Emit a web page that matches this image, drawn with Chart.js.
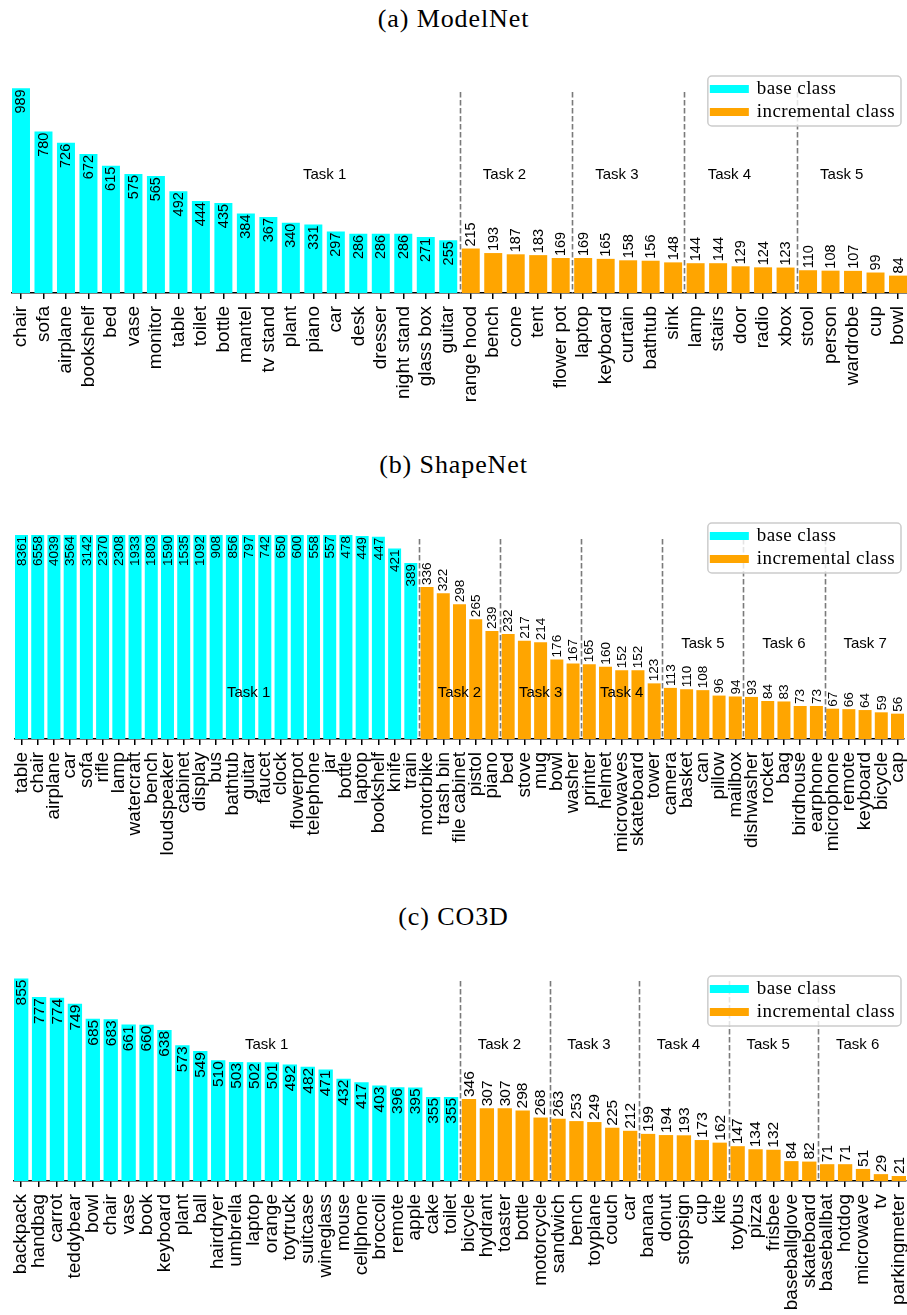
<!DOCTYPE html>
<html lang="en">
<head>
  <meta charset="UTF-8">
  <title>Class distribution</title>
  <script src="https://cdn.jsdelivr.net/npm/chart.js"></script>
  <style>
    body { margin: 0; background: #fff; width: 907px; height: 1315px; position: relative; overflow: hidden; }
    .title { position: absolute; left: 0; width: 907px; text-align: center; font-family: "Liberation Serif", serif; font-size: 26px; letter-spacing: 0.9px; line-height: 30px; color: #000; }
    .panel { position: absolute; left: 0; width: 907px; }
  </style>
</head>
<body>
  <div class="title" style="top:4px">(a) ModelNet</div>
  <div class="panel" style="top:64px;height:344px"><canvas id="modelnet"></canvas></div>
  <div class="title" style="top:450px">(b) ShapeNet</div>
  <div class="panel" style="top:515px;height:349px"><canvas id="shapenet"></canvas></div>
  <div class="title" style="top:902px">(c) CO3D</div>
  <div class="panel" style="top:955px;height:356px"><canvas id="co3d"></canvas></div>

  <script>
    // ModelNet
    const modelnetCats = ["chair", "sofa", "airplane", "bookshelf", "bed", "vase", "monitor", "table", "toilet", "bottle",
      "mantel", "tv stand", "plant", "piano", "car", "desk", "dresser", "night stand", "glass box", "guitar",
      "range hood", "bench", "cone", "tent", "flower pot",
      "laptop", "keyboard", "curtain", "bathtub", "sink",
      "lamp", "stairs", "door", "radio", "xbox",
      "stool", "person", "wardrobe", "cup", "bowl"];
    const modelnetCounts = [989, 780, 726, 672, 615, 575, 565, 492, 444, 435,
      384, 367, 340, 331, 297, 286, 286, 286, 271, 255,
      215, 193, 187, 183, 169,
      169, 165, 158, 156, 148,
      144, 144, 129, 124, 123,
      110, 108, 107, 99, 84];
    const modelnetTasks = ["Task 1", "Task 2", "Task 3", "Task 4", "Task 5"];
    const modelnetTaskX = [13.5, 21.5, 26.5, 31.5, 36.5];
    const modelnetTaskY = [572, 572, 572, 572, 572];

    // ShapeNet
    const shapenetCats = ["table", "chair", "airplane", "car", "sofa", "rifle", "lamp", "watercraft", "bench", "loudspeaker",
      "cabinet", "display", "bus", "bathtub", "guitar", "faucet", "clock", "flowerpot", "telephone", "jar",
      "bottle", "laptop", "bookshelf", "knife", "train",
      "motorbike", "trash bin", "file cabinet", "pistol", "piano",
      "bed", "stove", "mug", "bowl", "washer",
      "printer", "helmet", "microwaves", "skateboard", "tower",
      "camera", "basket", "can", "pillow", "mailbox",
      "dishwasher", "rocket", "bag", "birdhouse", "earphone",
      "microphone", "remote", "keyboard", "bicycle", "cap"];
    const shapenetCounts = [8361, 6558, 4039, 3564, 3142, 2370, 2308, 1933, 1803, 1590,
      1535, 1092, 908, 856, 797, 742, 650, 600, 558, 557,
      478, 449, 447, 421, 389,
      336, 322, 298, 265, 239,
      232, 217, 214, 176, 167,
      165, 160, 152, 152, 123,
      113, 110, 108, 96, 94,
      93, 84, 83, 73, 73,
      67, 66, 64, 59, 56];
    const shapenetTasks = ["Task 1", "Task 2", "Task 3", "Task 4", "Task 5", "Task 6", "Task 7"];
    const shapenetTaskX = [14, 27, 32, 37, 42, 47, 52];
    const shapenetTaskY = [102, 102, 102, 102, 210, 210, 210];

    // CO3D
    const co3dCats = ["backpack", "handbag", "carrot", "teddybear", "bowl", "chair", "vase", "book", "keyboard", "plant",
      "ball", "hairdryer", "umbrella", "laptop", "orange", "toytruck", "suitcase", "wineglass", "mouse", "cellphone",
      "broccoli", "remote", "apple", "cake", "toilet",
      "bicycle", "hydrant", "toaster", "bottle", "motorcycle",
      "sandwich", "bench", "toyplane", "couch", "car",
      "banana", "donut", "stopsign", "cup", "kite",
      "toybus", "pizza", "frisbee", "baseballglove", "skateboard",
      "baseballbat", "hotdog", "microwave", "tv", "parkingmeter"];
    const co3dCounts = [855, 777, 774, 749, 685, 683, 661, 660, 638, 573,
      549, 510, 503, 502, 501, 492, 482, 471, 432, 417,
      403, 396, 395, 355, 355,
      346, 307, 307, 298, 268,
      263, 253, 249, 225, 212,
      199, 194, 193, 173, 162,
      147, 134, 132, 84, 82,
      71, 71, 51, 29, 21];
    const co3dTasks = ["Task 1", "Task 2", "Task 3", "Task 4", "Task 5", "Task 6"];
    const co3dTaskX = [13.7, 26.7, 31.7, 36.7, 41.7, 46.7];
    const co3dTaskY = [573, 573, 573, 573, 573, 573];

    const legendLabels = ["base class", "incremental class"];
    const CYAN = "#00ffff";
    const ORANGE = "#ffa500";

    // dashed task separators, value labels, task names and legend
    const overlay = {
      id: "overlay",
      afterDatasetsDraw(chart, args, o) {
        const { ctx, chartArea: a, scales: { x, y } } = chart;
        const meta = chart.getDatasetMeta(0);
        const data = chart.data.datasets[0].data;
        ctx.save();

        ctx.strokeStyle = "#7a7a7a";
        ctx.lineWidth = 1.6;
        ctx.setLineDash([5.5, 2.5]);
        for (let b = o.nBase; b < data.length; b += 5) {
          const px = Math.round(x.getPixelForValue(b - 0.5)) + 0.5;
          ctx.beginPath();
          ctx.moveTo(px, y.getPixelForValue(o.dashTop));
          ctx.lineTo(px, a.bottom);
          ctx.stroke();
        }
        ctx.setLineDash([]);

        ctx.fillStyle = "#000";
        ctx.font = o.valueSize + 'px "Liberation Sans"';
        ctx.textBaseline = "middle";
        meta.data.forEach((bar, i) => {
          const top = Math.max(bar.y, a.top);
          ctx.save();
          ctx.translate(bar.x, top);
          ctx.rotate(-Math.PI / 2);
          if (i < o.nBase) {
            ctx.textAlign = "right";
            ctx.fillText(String(data[i].y), -1, 0.5);
          } else {
            ctx.textAlign = "left";
            ctx.fillText(String(data[i].y), 2, 0.5);
          }
          ctx.restore();
        });

        ctx.font = '15px "Liberation Sans"';
        ctx.textAlign = "center";
        o.tasks.forEach((t, i) => {
          ctx.fillText(t, x.getPixelForValue(o.taskX[i]), y.getPixelForValue(o.taskY[i]));
        });

        // legend box
        ctx.font = '19px "Liberation Serif"';
        ctx.letterSpacing = "0.4px";
        const tw = Math.max(...legendLabels.map(l => ctx.measureText(l).width));
        const w = 2 + 39 + 8 + tw + 6;
        const h = 50;
        const bx = chart.width - 6 - w;
        const by = a.top + o.legendDy;
        ctx.beginPath();
        ctx.roundRect(bx, by, w, h, 4);
        ctx.fillStyle = "rgba(255,255,255,0.8)";
        ctx.fill();
        ctx.strokeStyle = "#cccccc";
        ctx.lineWidth = 1.5;
        ctx.stroke();
        [CYAN, ORANGE].forEach((c, i) => {
          const cy = by + 13 + i * 23;
          ctx.fillStyle = c;
          ctx.fillRect(bx + 2, cy - 4, 39, 8);
          ctx.fillStyle = "#000";
          ctx.textAlign = "left";
          ctx.fillText(legendLabels[i], bx + 49, cy);
        });
        ctx.restore();
      }
    };

    function makeChart(id, cats, counts, o) {
      const colors = counts.map((_, i) => i < o.nBase ? CYAN : ORANGE);
      return new Chart(document.getElementById(id), {
        type: "bar",
        data: {
          datasets: [{
            data: counts.map((v, i) => ({ x: i, y: v })),
            backgroundColor: colors,
            categoryPercentage: 1,
            barPercentage: 0.8
          }]
        },
        options: {
          responsive: true,
          maintainAspectRatio: false,
          animation: false,
          layout: { padding: { left: o.left, right: o.right, top: 20, bottom: 0 } },
          plugins: {
            legend: { display: false },
            tooltip: { enabled: false },
            overlay: o
          },
          scales: {
            x: {
              type: "linear",
              offset: false,
              min: -0.4,
              max: cats.length - 0.6,
              afterBuildTicks: s => { s.ticks = cats.map((_, i) => ({ value: i })); },
              afterFit: s => { s.height = o.axisH; s.paddingLeft = 0; s.paddingRight = 0; },
              ticks: {
                callback: v => cats[v],
                autoSkip: false,
                maxRotation: 90,
                minRotation: 90,
                padding: 7,
                color: "#000",
                font: { family: "Liberation Sans", size: 19 }
              },
              grid: { offset: false, drawOnChartArea: false, color: "#000", lineWidth: 1.5, tickLength: 6 },
              border: { display: true, color: "#000", width: 1.5 }
            },
            y: { display: false, min: 0, max: o.yMax }
          }
        },
        plugins: [overlay]
      });
    }

    makeChart("modelnet", modelnetCats, modelnetCounts, {
      nBase: 20, yMax: 1010, dashTop: 971, valueSize: 14.5,
      tasks: modelnetTasks, taskX: modelnetTaskX, taskY: modelnetTaskY,
      left: 12, right: 0, axisH: 115, legendDy: -8
    });
    makeChart("shapenet", shapenetCats, shapenetCounts, {
      nBase: 25, yMax: 451, dashTop: 442, valueSize: 13.5,
      tasks: shapenetTasks, taskX: shapenetTaskX, taskY: shapenetTaskY,
      left: 15, right: 3, axisH: 125, legendDy: -12
    });
    makeChart("co3d", co3dCats, co3dCounts, {
      nBase: 25, yMax: 870, dashTop: 845, valueSize: 15.5,
      tasks: co3dTasks, taskX: co3dTaskX, taskY: co3dTaskY,
      left: 14, right: 1, axisH: 130, legendDy: 1
    });
  </script>
</body>
</html>
